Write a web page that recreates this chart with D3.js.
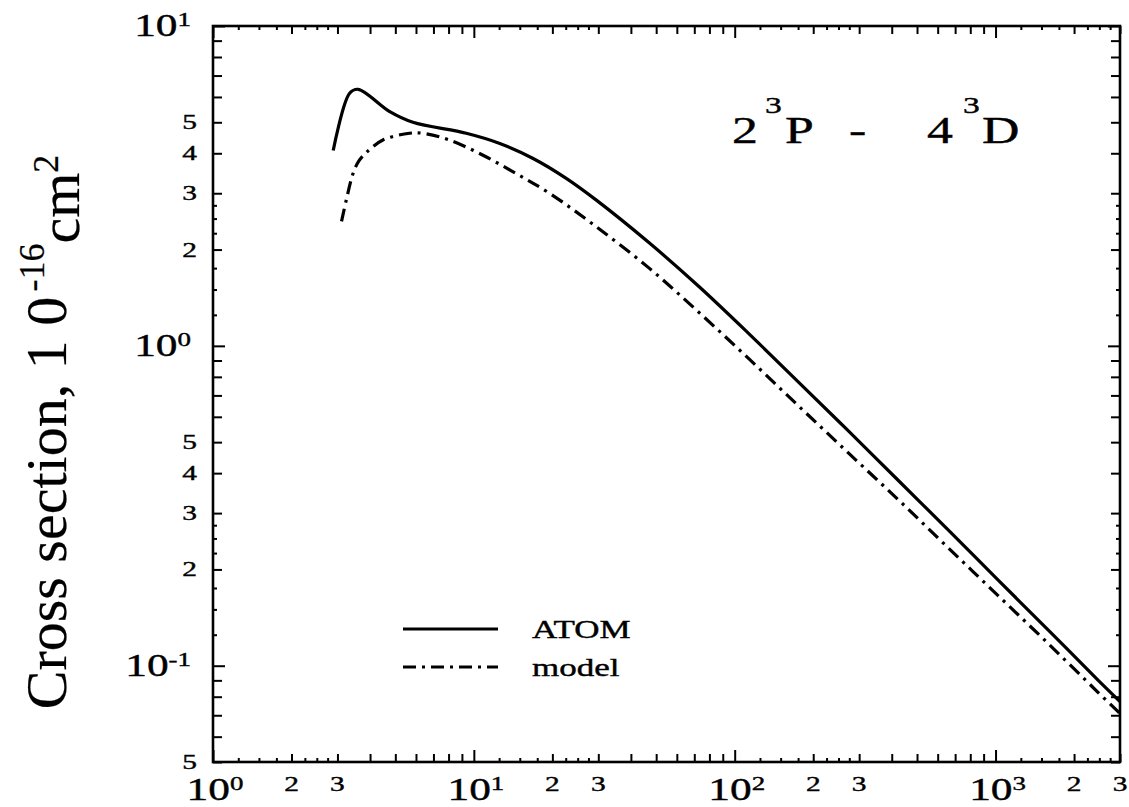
<!DOCTYPE html>
<html>
<head>
<meta charset="utf-8">
<script src="https://cdn.jsdelivr.net/npm/d3@7"></script>
<style>
  body { margin: 0; background: #fff; }
  svg { display: block; }
  text { font-family: "Liberation Serif", "Times New Roman", serif; fill: #000; stroke: #000; stroke-width: 0.4px; }
</style>
</head>
<body>
<svg id="chart" width="1129" height="807"></svg>
<script>
// Electron-impact excitation 2^3P - 4^3D: energy (eV) vs cross section (1e-16 cm^2)
const atomEnergy = [2.89, 3.34, 3.60, 4.76, 5.84, 9.35, 12.5, 16.8, 22.6, 29.4, 47.0, 73.1, 113.5, 176, 274, 426, 661, 1028, 1597, 2481, 3000];
const atomSigma  = [4.08, 6.16, 6.34, 5.40, 5.00, 4.62, 4.30, 3.86, 3.34, 2.86, 2.10, 1.53, 1.09, 0.769, 0.540, 0.378, 0.265, 0.1845, 0.129, 0.0899, 0.0772];

const modelEnergy = [3.11, 3.25, 3.44, 3.62, 3.87, 4.48, 5.67, 6.38, 8.07, 10.8, 14.5, 19.5, 29.4, 47.0, 73.1, 113.5, 176, 274, 426, 661, 1028, 1597, 2481, 3000];
const modelSigma  = [2.45, 2.88, 3.45, 3.78, 4.02, 4.40, 4.62, 4.62, 4.40, 3.95, 3.46, 3.00, 2.36, 1.75, 1.27, 0.910, 0.648, 0.461, 0.329, 0.233, 0.165, 0.117, 0.0823, 0.0709];

// Axis tick values
const xDecades = [1, 10, 100, 1000];
const xMinorLabelled = [2, 3, 20, 30, 200, 300, 2000, 3000];
const yDecades = [0.1, 1, 10];
const yMinorLabelled = [0.05, 0.2, 0.3, 0.4, 0.5, 2, 3, 4, 5];
const decadeExponent = { 1: "0", 10: "1", 100: "2", 1000: "3", 0.1: "-1" };

const svg = d3.select("#chart");
const plotLeft = 213, plotRight = 1120, plotTop = 26, plotBottom = 762;
const SX = 1.4; // horizontal stretch applied to upright lettering

const x = d3.scaleLog().domain([1, 3000]).range([plotLeft, plotRight]);
const y = d3.scaleLog().domain([0.05, 10]).range([plotBottom, plotTop]);

// tick sets: decades, integer multiples, quarter steps in the lower part of each decade
function tickSets(lo, hi) {
  const major = [], minor = [], fine = [];
  for (let p = Math.floor(Math.log10(lo)); p <= Math.ceil(Math.log10(hi)); p++) {
    const d = Math.pow(10, p);
    if (d >= lo * 0.999 && d <= hi * 1.001) major.push(d);
    for (let k = 2; k <= 9; k++) { const v = k * d; if (v >= lo * 0.999 && v <= hi * 1.001) minor.push(v); }
    for (const f of [1.25, 1.5, 1.75, 2.25, 2.5, 2.75]) { const v = f * d; if (v > lo && v < hi) fine.push(v); }
  }
  return { major, minor, fine };
}
const xt = tickSets(1, 3000);
const yt = tickSets(0.05, 10);

function drawTicks(axisFn, scale, values, size, transform) {
  const g = svg.append("g").attr("transform", transform)
    .call(axisFn(scale).tickValues(values).tickSize(-size).tickFormat(""));
  g.select(".domain").remove();
  g.selectAll(".tick line").attr("stroke", "#000").attr("stroke-width", 2);
}
for (const [vals, s] of [[xt.major, 12], [xt.minor, 8], [xt.fine, 4]]) {
  drawTicks(d3.axisBottom, x, vals, s, `translate(0,${plotBottom})`);
  drawTicks(d3.axisTop, x, vals, s, `translate(0,${plotTop})`);
}
for (const [vals, s] of [[yt.major, 12], [yt.minor, 9], [yt.fine, 4]]) {
  drawTicks(d3.axisLeft, y, vals, s, `translate(${plotLeft},0)`);
  drawTicks(d3.axisRight, y, vals, s, `translate(${plotRight},0)`);
}

// frame
svg.append("rect").attr("x", plotLeft).attr("y", plotTop)
  .attr("width", plotRight - plotLeft).attr("height", plotBottom - plotTop)
  .attr("fill", "none").attr("stroke", "#000").attr("stroke-width", 2.6);

// stretched upright text helper
function label(px, py, anchor, size) {
  return svg.append("text")
    .attr("transform", `translate(${px},${py}) scale(${SX},1)`)
    .attr("text-anchor", anchor).attr("font-size", size);
}
function decadeLabel(t, exp) {
  t.append("tspan").text("10");
  t.append("tspan").attr("font-size", "0.62em").attr("dy", "-0.5em").text(exp);
}

// x-axis labels
xDecades.forEach(v => decadeLabel(label(x(v) + 2, 800, "middle", 31), decadeExponent[v]));
xMinorLabelled.forEach(v => label(x(v), 791, "middle", 21).text(String(v).charAt(0)));

// y-axis labels
yDecades.forEach(v => decadeLabel(label(191, y(v) + 10, "end", 31), decadeExponent[v]));
yMinorLabelled.forEach(v => label(197, y(v) + 7, "end", 21).text(String(v).replace("0.0", "").replace("0.", "")));

// y-axis title
const yTitle = svg.append("text")
  .attr("transform", "translate(66,432) rotate(-90)")
  .attr("text-anchor", "middle").attr("font-size", 58)
  .style("stroke-width", "0.2px");
yTitle.append("tspan").text("Cross section, 1 0");
yTitle.append("tspan").attr("font-size", "0.62em").attr("dy", "-0.6em").attr("dx", "0.15em").text("-16");
yTitle.append("tspan").attr("dy", "0.6em").text("cm");
yTitle.append("tspan").attr("font-size", "0.62em").attr("dy", "-0.6em").text("2");

// curves
const line = d3.line().x(d => x(d[0])).y(d => y(d[1])).curve(d3.curveCatmullRom.alpha(0.5));
const atom = atomEnergy.map((e, i) => [e, atomSigma[i]]);
const model = modelEnergy.map((e, i) => [e, modelSigma[i]]);
svg.append("path").datum(atom).attr("d", line)
  .attr("fill", "none").attr("stroke", "#000").attr("stroke-width", 3.2).attr("stroke-linejoin", "round");
svg.append("path").datum(model).attr("d", line)
  .attr("fill", "none").attr("stroke", "#000").attr("stroke-width", 3.2)
  .attr("stroke-dasharray", "13,6,3,6");

// transition label
const title = [["2", 732, 143, 37], ["3", 765, 113, 24], ["P", 785, 143, 37], ["-", 849, 143, 37],
               ["4", 927, 143, 37], ["3", 963, 113, 24], ["D", 982, 143, 37]];
title.forEach(([s, px, py, fs]) => label(px, py, "start", fs).text(s));

// legend
const legend = [["ATOM", null, 629], ["model", "13,6,3,6", 667]];
legend.forEach(([name, dash, ly]) => {
  svg.append("line").attr("x1", 403).attr("x2", 498).attr("y1", ly).attr("y2", ly)
    .attr("stroke", "#000").attr("stroke-width", 3).attr("stroke-dasharray", dash);
  label(532, ly + 9, "start", 25).text(name);
});
</script>
</body>
</html>
